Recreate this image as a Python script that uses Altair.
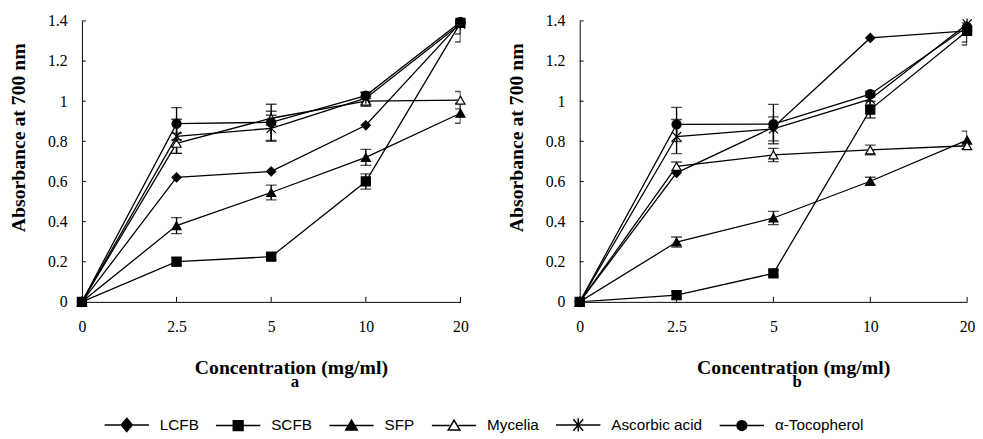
import altair as alt
import pandas as pd

conc = ["0", "2.5", "5", "10", "20"]
series = ["LCFB", "SCFB", "SFP", "Mycelia", "Ascorbic acid", "α-Tocopherol"]
y_ticks = [0, 0.2, 0.4, 0.6, 0.8, 1.0, 1.2, 1.4]

# Panel a
a_lcfb = [0, 0.62, 0.65, 0.88, 1.39]
a_scfb = [0, 0.20, 0.225, 0.60, 1.39]
a_sfp = [0, 0.38, 0.545, 0.72, 0.94]
a_myc = [0, 0.79, 0.915, 1.00, 1.005]
a_asc = [0, 0.825, 0.865, 1.015, 1.385]
a_toc = [0, 0.888, 0.895, 1.028, 1.395]
a_err_lcfb = [0, 0, 0, 0, 0]
a_err_scfb = [0, 0.02, 0.015, 0.038, 0.055]
a_err_sfp = [0, 0.04, 0.037, 0.04, 0.05]
a_err_myc = [0, 0.05, 0.035, 0.025, 0.043]
a_err_asc = [0, 0.085, 0.065, 0.03, 0.09]
a_err_toc = [0, 0.08, 0.09, 0.015, 0.02]

# Panel b
b_lcfb = [0, 0.643, 0.87, 1.315, 1.35]
b_scfb = [0, 0.033, 0.142, 0.958, 1.35]
b_sfp = [0, 0.298, 0.418, 0.601, 0.806]
b_myc = [0, 0.675, 0.732, 0.757, 0.778]
b_asc = [0, 0.824, 0.862, 1.01, 1.385]
b_toc = [0, 0.884, 0.886, 1.035, 1.37]
b_err_lcfb = [0, 0, 0, 0, 0]
b_err_scfb = [0, 0.02, 0.015, 0.042, 0.07]
b_err_sfp = [0, 0.025, 0.033, 0.02, 0.045]
b_err_myc = [0, 0.022, 0.033, 0.024, 0.015]
b_err_asc = [0, 0.085, 0.06, 0.03, 0.09]
b_err_toc = [0, 0.085, 0.098, 0.015, 0.02]

SERIF = "Liberation Serif"
SANS = "Liberation Sans"

asterisk = "M-1,-1L1,1M-1,1L1,-1M0,-1.2L0,1.2"
point_shapes = ["diamond", "square", "triangle-up", "triangle-up", asterisk, "circle"]
point_fills = ["black", "black", "black", "white", "black", "black"]

tri = "M0,-0.24L0.26,0.2L-0.26,0.2Z"
tri_rev = "M0,-0.24L-0.26,0.2L0.26,0.2Z"
legend_shapes = [
    "M-1,0L1,0M0,-0.3L0.25,0L0,0.3L-0.25,0Z",
    "M-1,0L1,0M-0.22,-0.22L0.22,-0.22L0.22,0.22L-0.22,0.22Z",
    "M-1,0L1,0" + tri,
    "M-1,0L-0.2,0M0.2,0L1,0" + tri + tri_rev,
    "M-1,0L1,0M-0.22,-0.26L0.22,0.26M-0.22,0.26L0.22,-0.26M0,-0.3L0,0.3",
    "M-1,0L1,0M0.22,0A0.22,0.22 0 1,1 -0.22,0A0.22,0.22 0 1,1 0.22,0Z",
]


def build(vals, errs):
    rows = []
    for s, v, e in zip(series, vals, errs):
        for i, (c, vv, ee) in enumerate(zip(conc, v, e)):
            rows.append(dict(series=s, conc=c, i=i, value=vv, err=ee, lo=vv - ee, hi=vv + ee))
    return pd.DataFrame(rows)


df_a = build([a_lcfb, a_scfb, a_sfp, a_myc, a_asc, a_toc],
             [a_err_lcfb, a_err_scfb, a_err_sfp, a_err_myc, a_err_asc, a_err_toc])
df_b = build([b_lcfb, b_scfb, b_sfp, b_myc, b_asc, b_toc],
             [b_err_lcfb, b_err_scfb, b_err_sfp, b_err_myc, b_err_asc, b_err_toc])

H = 285


def panel(df, width, letter, with_legend):
    xenc = alt.X("conc:N", sort=conc, scale=alt.Scale(type="point", padding=0),
                 axis=alt.Axis(title="Concentration (mg/ml)", labelAngle=0, labelPadding=17,
                               titleX=width / 2 + 20, titleY=67, titleBaseline="middle"))
    yaxis = alt.Axis(values=y_ticks, format="~g", title="Absorbance at 700 nm",
                     labelPadding=15, titleX=-64, titleY=118, titleBaseline="middle")
    yscale = alt.Scale(domain=[0, 1.4], nice=False, zero=False)
    yenc = alt.Y("value:Q", scale=yscale, axis=yaxis)

    base = alt.Chart(df)
    lines = base.mark_line(color="black", strokeWidth=1.3, clip=True).encode(
        x=xenc, y=yenc, detail="series:N", order="i:Q")
    errdf = base.transform_filter("datum.err > 0")
    err_rule = errdf.mark_rule(color="black", strokeWidth=1.4, clip=True).encode(
        x=xenc, y=alt.Y("lo:Q", scale=yscale, axis=yaxis), y2="hi:Q")
    cap_lo = errdf.mark_tick(color="black", size=11, thickness=1.4, clip=True).encode(
        x=xenc, y=alt.Y("lo:Q", scale=yscale, axis=yaxis))
    cap_hi = errdf.mark_tick(color="black", size=11, thickness=1.4, clip=True).encode(
        x=xenc, y=alt.Y("hi:Q", scale=yscale, axis=yaxis))
    points = base.mark_point(filled=True, size=85, stroke="black", strokeWidth=1.2, opacity=1).encode(
        x=xenc, y=yenc,
        shape=alt.Shape("series:N", scale=alt.Scale(domain=series, range=point_shapes), legend=None),
        fill=alt.Fill("series:N", scale=alt.Scale(domain=series, range=point_fills), legend=None),
    )
    xt = alt.Chart(pd.DataFrame({"conc": conc})).mark_rule(color="black", strokeWidth=1).encode(
        x=xenc, y=alt.value(H - 5), y2=alt.value(H))
    yt = alt.Chart(pd.DataFrame({"value": y_ticks})).mark_rule(color="black", strokeWidth=1).encode(
        y=yenc, x=alt.value(0), x2=alt.value(4))
    lab = alt.Chart(pd.DataFrame({"t": [letter]})).mark_text(
        font=SERIF, fontSize=17, fontWeight="bold", color="black").encode(
        x=alt.value(width / 2 + 24), y=alt.value(H + 81), text="t:N")
    layers = [lines, err_rule, cap_lo, cap_hi, points, xt, yt, lab]
    if with_legend:
        leg_props = dict(orient="none", legendX=22, legendY=386,
                         direction="horizontal", title=None,
                         symbolSize=2025, symbolStrokeWidth=1.5,
                         labelFont=SANS, labelFontSize=15.5, labelColor="black",
                         labelOffset=10, columnPadding=14, padding=0, columns=6)
        leg = base.transform_filter("false").mark_point(
            filled=True, size=2025, color="black", strokeWidth=1.5, opacity=1
        ).encode(
            shape=alt.Shape("series:N", scale=alt.Scale(domain=series, range=legend_shapes),
                            legend=alt.Legend(**leg_props)),
            stroke=alt.Stroke("series:N", scale=alt.Scale(domain=series, range=["black"] * 6),
                              legend=alt.Legend(**leg_props)),
        )
        layers.append(leg)
    return alt.layer(*layers).properties(width=width, height=H).resolve_scale(
        shape="independent", fill="independent", stroke="independent")


left = panel(df_a, 384, "a", True)
right = panel(df_b, 393, "b", False)

chart = alt.hconcat(left, right, spacing=121, bounds="flush").resolve_scale(
    shape="independent", fill="independent", stroke="independent"
).properties(padding={"left": 0, "top": 2, "right": 0, "bottom": 0}).configure_view(stroke=None).configure_axis(
    grid=False, ticks=False, domainColor="black", domainWidth=1,
    labelFont=SERIF, labelFontSize=16, labelColor="black",
    titleFont=SERIF, titleFontSize=20, titleFontWeight="bold", titleColor="black",
)

chart.save("out.html", embed_options={"renderer": "svg", "actions": False})
